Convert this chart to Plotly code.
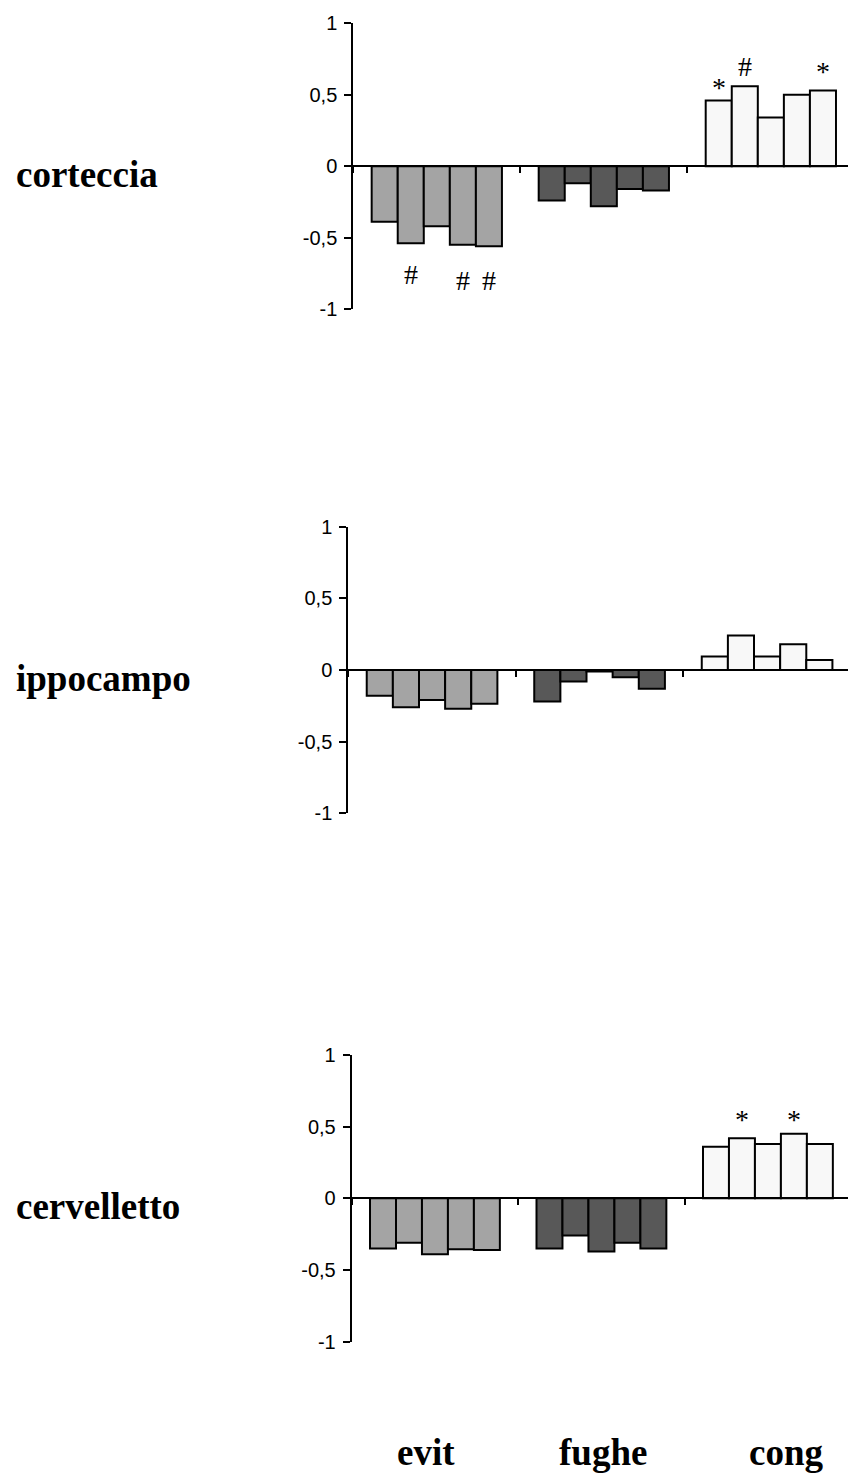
import plotly.graph_objects as go

categories = ["evit", "fughe", "cong"]
regions = ["corteccia", "ippocampo", "cervelletto"]

# values[region][series] -> per category [evit, fughe, cong]
corteccia = [
    [-0.39, -0.24, 0.46],
    [-0.54, -0.12, 0.56],
    [-0.42, -0.28, 0.34],
    [-0.55, -0.16, 0.50],
    [-0.56, -0.17, 0.53],
]
ippocampo = [
    [-0.18, -0.22, 0.095],
    [-0.26, -0.08, 0.24],
    [-0.21, -0.01, 0.095],
    [-0.27, -0.05, 0.18],
    [-0.235, -0.13, 0.07],
]
cervelletto = [
    [-0.35, -0.35, 0.36],
    [-0.31, -0.26, 0.42],
    [-0.39, -0.37, 0.38],
    [-0.355, -0.31, 0.45],
    [-0.36, -0.35, 0.38],
]
panels = [corteccia, ippocampo, cervelletto]

ytick_vals = [-1, -0.5, 0, 0.5, 1]
ytick_text = ["-1", "-0,5", "0", "0,5", "1"]

# significance marks: (panel, category, series, symbol, y)
marks = [
    (0, 0, 1, "#", -0.76),
    (0, 0, 3, "#", -0.80),
    (0, 0, 4, "#", -0.80),
    (0, 2, 0, "*", 0.55),
    (0, 2, 1, "#", 0.70),
    (0, 2, 4, "*", 0.66),
    (2, 2, 1, "*", 0.55),
    (2, 2, 3, "*", 0.55),
]

colors = ["#a4a4a4", "#585858", "#f8f8f8"]

W, H = 848, 1477


def px_x(v):
    return v / W


def px_y(v):
    return 1 - v / H


# layout geometry in page pixels
geo = [
    dict(x0=353.3, ytop=23.3, ybot=309.0, xr=2.462),
    dict(x0=348.3, ytop=526.7, ybot=813.3, xr=2.483),
    dict(x0=351.7, ytop=1055.0, ybot=1341.7, xr=2.481),
]

fig = go.Figure()
layout = dict(
    template="none",
    width=W, height=H,
    margin=dict(l=0, r=0, t=0, b=0, pad=0, autoexpand=False),
    paper_bgcolor="white", plot_bgcolor="white",
    showlegend=False,
    barmode="group", bargap=0.22, bargroupgap=0,
    annotations=[],
)

bargap = 0.22
nser = 5
bw = (1 - bargap) / nser

for p, data in enumerate(panels):
    g = geo[p]
    xa = "x" if p == 0 else f"x{p+1}"
    ya = "y" if p == 0 else f"y{p+1}"
    xdom = [px_x(g["x0"]), 1]
    ydom = [px_y(g["ybot"]), px_y(g["ytop"])]
    for s in range(nser):
        fig.add_trace(go.Bar(
            x=categories, y=data[s], xaxis=xa, yaxis=ya,
            marker=dict(color=colors, line=dict(color="black", width=2)),
            offsetgroup=str(s),
        ))
    xkey = "xaxis" if p == 0 else f"xaxis{p+1}"
    ykey = "yaxis" if p == 0 else f"yaxis{p+1}"
    layout[xkey] = dict(
        domain=xdom, anchor="free", position=(ydom[0] + ydom[1]) / 2,
        type="category", range=[-0.5, g["xr"]], automargin=False,
        showline=True, linecolor="black", linewidth=2,
        ticks="outside", tickson="boundaries", ticklen=6, tickwidth=2,
        tickcolor="black", showticklabels=False, showgrid=False,
        zeroline=False, fixedrange=True,
    )
    layout[ykey] = dict(
        domain=ydom, anchor=xa, range=[-1, 1], automargin=False,
        tickvals=ytick_vals, ticktext=ytick_text,
        showline=True, linecolor="black", linewidth=2,
        ticks="outside", ticklen=7, tickwidth=2, tickcolor="black",
        showgrid=False, zeroline=False,
        tickfont=dict(family="Liberation Sans, Arial", size=20, color="black"),
        ticklabelstandoff=3,
    )
    layout["annotations"].append(dict(
        text=f"<b>{regions[p]}</b>", xref="paper", yref=ya,
        x=px_x(14), y=-0.06, xanchor="left", yanchor="middle", showarrow=False,
        font=dict(family="Liberation Serif, Times New Roman", size=37, color="black"),
    ))

for (p, c, s, sym, yv) in marks:
    xa = "x" if p == 0 else f"x{p+1}"
    ya = "y" if p == 0 else f"y{p+1}"
    xc = c - (1 - bargap) / 2 + bw * (s + 0.5)
    layout["annotations"].append(dict(
        text=sym, xref=xa, yref=ya, x=xc, y=yv, xanchor="center", yanchor="middle",
        showarrow=False,
        font=dict(family="Liberation Serif, Times New Roman", size=28, color="black"),
    ))

label_x = [425.8, 603.3, 786.7]
for i, c in enumerate(categories):
    layout["annotations"].append(dict(
        text=f"<b>{c}</b>", xref="paper", yref="paper",
        x=px_x(label_x[i]), y=px_y(1452), xanchor="center", yanchor="middle",
        showarrow=False,
        font=dict(family="Liberation Serif, Times New Roman", size=37, color="black"),
    ))

fig.update_layout(**layout)

page_fix = (
    "document.documentElement.style.margin='0';"
    "document.documentElement.style.padding='0';"
    "document.body.style.margin='0';"
    "document.body.style.padding='0';"
    "document.body.style.overflow='hidden';"
)
fig.write_html("out.html", post_script=page_fix,
               config={"displayModeBar": False})
